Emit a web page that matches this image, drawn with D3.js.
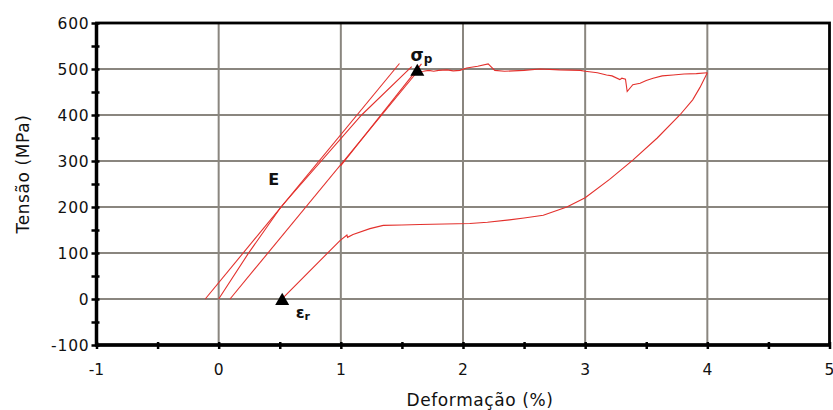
<!DOCTYPE html>
<html>
<head>
<meta charset="utf-8">
<script src="https://cdn.jsdelivr.net/npm/d3@7"></script>
<style>
  body { margin: 0; background: #fff; }
  svg { display: block; font-family: "DejaVu Sans", Verdana, sans-serif; }
</style>
</head>
<body>
<svg id="chart" width="833" height="410"></svg>
<script>
// strain (%) / stress (MPa)
const loadA = [[-0.11, 0], [1.48, 512]];
const loadB = [[0.0, 0], [0.24, 98], [0.51, 200], [1.17, 400], [1.58, 505]];
const loadC = [[0.093, 0], [1.626, 494]];
const loadD = [[1.0, 290], [1.66, 511]];
const plateau = [
  [1.626, 494], [1.675, 495], [1.72, 497], [1.76, 495], [1.8, 497], [1.87, 498],
  [1.92, 496], [1.975, 497], [2.03, 502], [2.12, 506], [2.206, 511], [2.26, 497],
  [2.34, 495], [2.41, 496], [2.5, 497], [2.63, 500], [2.79, 498], [2.96, 497],
  [3.0, 495], [3.1, 492], [3.175, 487], [3.22, 485], [3.284, 477], [3.3, 480],
  [3.33, 478], [3.344, 451], [3.39, 466], [3.45, 469], [3.5, 475], [3.556, 480],
  [3.63, 485], [3.72, 487], [3.81, 489], [3.91, 490], [4.0, 492]
];
const unload = [
  [4.0, 492], [3.94, 460], [3.88, 433], [3.775, 400], [3.59, 350], [3.39, 302],
  [3.2, 260], [3.0, 220], [2.85, 200], [2.657, 182], [2.5, 176], [2.38, 172],
  [2.2, 167], [2.056, 164], [1.85, 163], [1.647, 162], [1.5, 161], [1.347, 160],
  [1.238, 153], [1.1, 140], [1.055, 134], [1.05, 139], [0.993, 127], [0.529, 3], [0.52, 0]
];
const markers = [[1.626, 494], [0.52, -4]];
const xTicks = [-1, 0, 1, 2, 3, 4, 5];
const yTicks = [-100, 0, 100, 200, 300, 400, 500, 600];

const svg = d3.select("#chart");
const x = d3.scaleLinear().domain([-1, 5]).range([96.5, 829.5]);
const y = d3.scaleLinear().domain([-100, 600]).range([345, 23]);

// grid
const grid = svg.append("g").attr("stroke", "#8a867f").attr("stroke-width", 2);
grid.selectAll("line.v").data(xTicks.slice(1, -1)).join("line")
  .attr("x1", d => x(d)).attr("x2", d => x(d)).attr("y1", y(600)).attr("y2", y(-100));
grid.selectAll("line.h").data(yTicks.slice(1, -1)).join("line")
  .attr("x1", x(-1)).attr("x2", x(5)).attr("y1", d => y(d)).attr("y2", d => y(d));

// curves
const line = d3.line().x(d => x(d[0])).y(d => y(d[1]));
svg.append("g").attr("fill", "none").attr("stroke", "#e3302c").attr("stroke-width", 1.1)
  .selectAll("path").data([loadA, loadB, loadC, loadD, plateau, unload]).join("path")
  .attr("d", line);

// frame
svg.append("rect").attr("x", x(-1)).attr("y", y(600))
  .attr("width", x(5) - x(-1)).attr("height", y(-100) - y(600))
  .attr("fill", "none").attr("stroke", "#000").attr("stroke-width", 2.8);
svg.append("line").attr("x1", x(-1)).attr("x2", x(-1)).attr("y1", y(600)).attr("y2", y(-100) + 1.5)
  .attr("stroke", "#000").attr("stroke-width", 3.5);
svg.append("line").attr("x1", x(-1)).attr("x2", x(5)).attr("y1", y(-100)).attr("y2", y(-100))
  .attr("stroke", "#000").attr("stroke-width", 3.5);

// y axis
const yAxis = svg.append("g").attr("transform", `translate(${x(-1)},0)`)
  .call(d3.axisLeft(y).tickValues(d3.range(-100, 601, 50)).tickFormat("").tickSize(5).tickSizeOuter(0));
yAxis.select(".domain").remove();
yAxis.selectAll(".tick line").attr("stroke-width", 2.5).attr("x2", -5).attr("x1", 3);
svg.append("g").selectAll("text").data(yTicks).join("text")
  .attr("x", x(-1) - 7).attr("y", d => y(d) + 5.5).attr("text-anchor", "end")
  .attr("font-size", 15.5).attr("letter-spacing", 0.8).attr("fill", "#111").text(d => d);

// x axis
const xAxis = svg.append("g").attr("transform", `translate(0,${y(-100)})`)
  .call(d3.axisBottom(x).tickValues(d3.range(-1, 5.01, 0.5)).tickFormat("").tickSize(5).tickSizeOuter(0));
xAxis.select(".domain").remove();
xAxis.selectAll(".tick line").attr("stroke-width", 2.5).attr("y1", -3).attr("y2", 4);
svg.append("g").selectAll("text").data(xTicks).join("text")
  .attr("x", d => x(d)).attr("y", 375).attr("text-anchor", "middle")
  .attr("font-size", 15.5).attr("fill", "#111").text(d => d);

// axis titles
svg.append("text").attr("x", 480).attr("y", 406).attr("text-anchor", "middle")
  .attr("font-size", 17).attr("letter-spacing", 0.6).attr("fill", "#111").text("Deformação (%)");
svg.append("text").attr("transform", "translate(29,174) rotate(-90)").attr("text-anchor", "middle")
  .attr("font-size", 17).attr("letter-spacing", 0.6).attr("fill", "#111").text("Tensão (MPa)");

// markers
svg.append("g").selectAll("path").data(markers).join("path")
  .attr("transform", d => `translate(${x(d[0])},${y(d[1])})`)
  .attr("d", d3.symbol(d3.symbolTriangle, 85)).attr("fill", "#000");

// annotations
const ann = svg.append("g").attr("font-weight", "bold").attr("fill", "#111");
ann.append("text").attr("x", x(0.45)).attr("y", y(247)).attr("text-anchor", "middle")
  .attr("font-size", 16).text("E");
const sp = ann.append("text").attr("x", x(1.57)).attr("y", y(518)).attr("font-size", 17);
sp.append("tspan").text("σ");
sp.append("tspan").attr("font-size", 12).attr("dy", 2).text("p");
const er = ann.append("text").attr("x", x(0.63)).attr("y", y(-42)).attr("font-size", 16);
er.append("tspan").text("ε");
er.append("tspan").attr("font-size", 11).attr("dy", 2).text("r");
</script>
</body>
</html>
